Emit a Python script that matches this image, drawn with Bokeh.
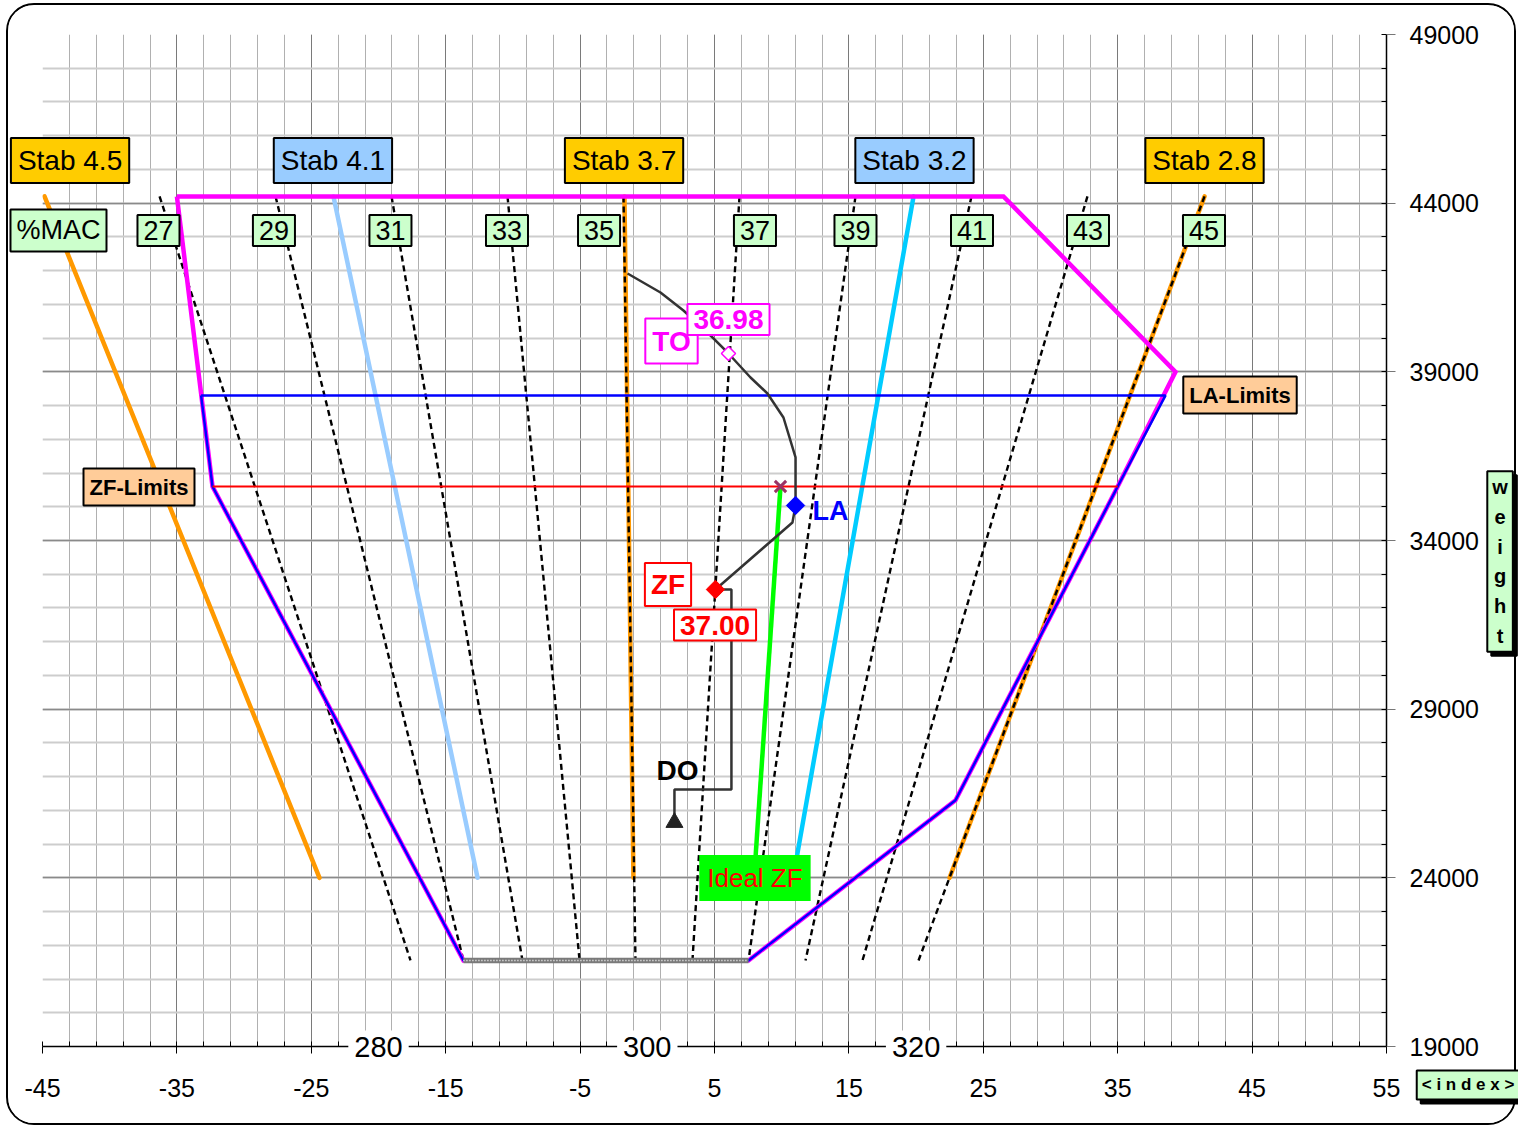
import math
from bokeh.plotting import figure
from bokeh.models import Range1d, FixedTicker, Label, CustomJSTickFormatter
from bokeh.embed import file_html
from bokeh.resources import INLINE

FONT = "Liberation Sans"

# ---------------- data ----------------
x_ticks = [-45, -35, -25, -15, -5, 5, 15, 25, 35, 45, 55]
x_minor = list(range(-45, 56, 2))
y_ticks = [19000, 24000, 29000, 34000, 39000, 44000, 49000]
y_minor = list(range(19000, 49001, 1000))
arm_positions = [-20, 0, 20]
arm_labels = ["280", "300", "320"]

mac_values = [27, 29, 31, 33, 35, 37, 39, 41, 43, 45]
mac_top_index = [-36.29, -27.66, -19.03, -10.40, -1.77, 6.86, 15.49, 24.12, 32.75, 41.46]
mac_bottom_index = [-17.62, -13.68, -9.29, -5.04, -0.88, 3.36, 7.53, 11.77, 16.01, 20.18]
mac_top_weight = 44200
mac_bottom_weight = 21550
mac_label_index = [-36.37, -27.78, -19.11, -10.44, -3.59, 8.01, 15.49, 24.16, 32.79, 41.42]

stab_labels = ["Stab 4.5", "Stab 4.1", "Stab 3.7", "Stab 3.2", "Stab 2.8"]
stab_top_index = [-44.85, -23.35, -1.70, 19.81, 41.46]
stab_bottom_index = [-24.39, -12.63, -1.03, 10.85, 22.49]
stab_top_weight = 44200
stab_bottom_weight = 24000
stab_colors = ["#FF9900", "#99CCFF", "#FF9900", "#00CCFF", "#FF9900"]
stab_box_colors = ["#FFCC00", "#99CCFF", "#FFCC00", "#99CCFF", "#FFCC00"]
stab_label_index = [-42.95, -23.39, -1.73, 19.88, 41.46]

to_env_index = [-35.0, 26.5, 39.3, 35.0, 22.93, 7.53, -13.68, -32.35, -35.0]
to_env_weight = [44200, 44200, 39000, 35600, 26300, 21550, 21550, 35600, 44200]
la_env_index = [-33.2, 38.56, 35.0, 22.93, 7.53, -13.68, -32.35, -33.2]
la_env_weight = [38300, 38300, 35600, 26300, 21550, 21550, 35600, 38300]
zf_limit_index = [-32.35, 35.0]
zf_limit_weight = [35600, 35600]
bottom_index = [-13.68, 7.53]
bottom_weight = [21550, 21550]

ideal_zf_index = [9.91, 7.95]
ideal_zf_weight = [35600, 24000]

do_path_index = [2.02, 2.02, 6.26, 6.26, 5.07]
do_path_weight = [25641, 26619, 26619, 32548, 32548]
fuel_index = [5.07, 10.80, 11.03, 11.03, 10.13, 8.94, 7.68, 6.04, 4.48, 2.69, 0.98, -1.47]
fuel_weight = [32548, 34534, 35038, 36461, 37646, 38358, 38832, 39544, 40166, 40818, 41352, 41915]

to_point = (6.04, 39544)
zf_point = (5.07, 32548)
la_point = (11.03, 35038)
ideal_point = (9.91, 35600)
do_point = (2.02, 25641)

# ---------------- layout constants ----------------
W, H = 1510, 1122
FL, FT, FW, FH = 34, 29, 1344, 1012
X0, X1, Y0, Y1 = -45, 55, 19000, 49000
XPX = FW / (X1 - X0)
YPX = FH / (Y1 - Y0)

# ---------------- main figure ----------------
p = figure(width=W, height=H, x_range=Range1d(X0, X1), y_range=Range1d(Y0, Y1),
           y_axis_location="right", x_axis_location="below",
           output_backend="svg", toolbar_location=None,
           min_border_left=FL, min_border_right=W - FL - FW,
           min_border_top=FT, min_border_bottom=H - FT - FH)
p.styles = {"position": "absolute", "left": "6px", "top": "3px",
            "border": "2px solid black", "border-radius": "28px", "overflow": "hidden"}
p.outline_line_color = None
p.background_fill_color = "white"
p.border_fill_color = "white"

p.xgrid.ticker = FixedTicker(ticks=x_ticks, minor_ticks=x_minor)
p.ygrid.ticker = FixedTicker(ticks=y_ticks, minor_ticks=y_minor)
p.xgrid.grid_line_color = "#7A7A7A"
p.xgrid.minor_grid_line_color = "#B0B0B0"
p.ygrid.grid_line_color = "#8A8A8A"
p.ygrid.grid_line_width = 1.5
p.ygrid.minor_grid_line_color = "#CDCDCD"
p.ygrid.minor_grid_line_width = 2

fmt = CustomJSTickFormatter(code="return tick.toFixed(0);")

xa = p.xaxis[0]
xa.ticker = FixedTicker(ticks=x_ticks, minor_ticks=x_minor)
xa.formatter = fmt
xa.major_tick_out = 7
xa.major_tick_in = 0
xa.minor_tick_in = 5
xa.minor_tick_out = 0
xa.axis_line_color = "black"
xa.axis_line_width = 1.5
xa.major_label_text_font = FONT
xa.major_label_text_font_size = "25px"
xa.major_label_text_color = "black"
xa.major_label_standoff = 25

ya = p.yaxis[0]
ya.ticker = FixedTicker(ticks=y_ticks, minor_ticks=y_minor)
ya.formatter = fmt
ya.major_tick_out = 9
ya.major_tick_in = 0
ya.major_tick_line_color = "#777777"
ya.minor_tick_in = 5
ya.minor_tick_out = 0
ya.axis_line_color = "black"
ya.axis_line_width = 1.5
ya.major_label_text_font = FONT
ya.major_label_text_font_size = "25px"
ya.major_label_text_color = "black"
ya.major_label_standoff = 14

# stab lines
for ti, bi, c in zip(stab_top_index, stab_bottom_index, stab_colors):
    p.line([ti, bi], [stab_top_weight, stab_bottom_weight], line_color=c, line_width=4.5, line_cap="round")

# %MAC lines
for ti, bi in zip(mac_top_index, mac_bottom_index):
    p.line([ti, bi], [mac_top_weight, mac_bottom_weight], line_color="black", line_width=2.4, line_dash="6 4")

p.line(ideal_zf_index, ideal_zf_weight, line_color="#00FF00", line_width=4.5)

# envelopes
p.line(to_env_index, to_env_weight, line_color="#FF00FF", line_width=4.5, line_join="miter")
p.line(la_env_index, la_env_weight, line_color="#0000FF", line_width=2.5)
p.line(zf_limit_index, zf_limit_weight, line_color="#FF0000", line_width=2)
p.line(bottom_index, bottom_weight, line_color="#7A7A7A", line_width=5.5)
p.line(bottom_index, bottom_weight, line_color="white", line_width=1.5, line_dash="1 2")

# load path
p.line(do_path_index, do_path_weight, line_color="#333333", line_width=2.5)
p.line(fuel_index, fuel_weight, line_color="#333333", line_width=2.5)

# markers
rot = math.pi / 4
p.scatter([do_point[0]], [do_point[1]], marker="triangle", size=17, fill_color="#222222", line_color="#222222")
p.scatter([ideal_point[0]], [ideal_point[1]], marker="x", size=16, line_color="#993366", line_width=3)
p.scatter([la_point[0]], [la_point[1]], marker="square", angle=rot, size=13, fill_color="#0000FF", line_color="#0000FF")
p.scatter([zf_point[0]], [zf_point[1]], marker="square", angle=rot, size=13, fill_color="#FF0000", line_color="#FF0000")
p.scatter([to_point[0]], [to_point[1]], marker="square", angle=rot, size=10, fill_color="white", line_color="#FF00FF", line_width=1.5)

# ---------------- overlay figure for the text boxes (frame = whole canvas) ----------------
q = figure(width=W, height=H,
           x_range=Range1d(X0 - FL / XPX, X0 + (W - FL) / XPX),
           y_range=Range1d(Y1 - (H - FT) / YPX, Y1 + FT / YPX),
           x_axis_location=None, y_axis_location=None,
           output_backend="svg", toolbar_location=None, min_border=0)
q.styles = {"position": "absolute", "left": "8px", "top": "5px"}
q.grid.visible = False
q.outline_line_color = None
q.background_fill_color = None
q.border_fill_color = None


def add_label(x, y, text, size, fill=None, border="black", color="black", bold=False,
              align="center", pad=6, bw=2, xo=0, yo=0, lh=1.2):
    lab = Label(x=x, y=y, text=text, text_font=FONT, text_font_size=f"{size}px",
                text_font_style="bold" if bold else "normal", text_color=color,
                text_align=align, text_baseline="middle", x_offset=xo, y_offset=yo,
                background_fill_color=fill, border_line_color=border,
                border_line_width=bw, padding=pad, text_line_height=lh)
    q.add_layout(lab)
    return lab


# stab labels
for lx, t, fc in zip(stab_label_index, stab_labels, stab_box_colors):
    add_label(lx, 45265, t, 28, fill=fc, pad=7)

# %MAC labels
add_label(-43.81, 43190, "%MAC", 27, fill="#CCFFCC", pad=6)
for lx, v in zip(mac_label_index, mac_values):
    add_label(lx, 43190, str(v), 27, fill="#CCFFCC", pad=6)

# point labels
add_label(1.80, 39914, "TO", 28, fill="white", border="#FF00FF", color="#FF00FF", bold=True, pad=7)
add_label(6.04, 40551, "36.98", 28, fill="white", border="#FF00FF", color="#FF00FF", bold=True, pad=6)
add_label(1.54, 32696, "ZF", 28, fill="white", border="#FF0000", color="#FF0000", bold=True, pad=6)
add_label(5.04, 31495, "37.00", 28, fill="white", border="#FF0000", color="#FF0000", bold=True, pad=6)
add_label(12.29, 34889, "LA", 27, border=None, color="#0000FF", bold=True, align="left", pad=0)
add_label(2.25, 27182, "DO", 28, border=None, color="black", bold=True, pad=0)
add_label(8.01, 23995, "Ideal ZF", 26, fill="#00FF00", border=None, color="#FF0000", pad=8)
add_label(44.10, 38313, "LA-Limits", 22, fill="#FFCC99", bold=True, pad=6)
add_label(-37.82, 35585, "ZF-Limits", 22, fill="#FFCC99", bold=True, pad=6)

# arm scale labels on the bottom line
for ax_, at in zip(arm_positions, arm_labels):
    add_label(ax_, 19000, at, 29, fill="white", border=None, pad=6)

# axis title boxes with shadow (kept inside the page)
wtxt = "w\ne\ni\ng\nh\nt"
add_label(63.45, 33378, wtxt, 20, fill="black", color="black", bold=True, pad=5, xo=4, yo=-4, lh=1.35)
add_label(63.45, 33378, wtxt, 20, fill="#CCFFCC", bold=True, pad=5, lh=1.35)
itxt = "< i n d e x >"
add_label(57.25, 17859, itxt, 17, fill="black", color="black", bold=True, align="left", pad=5, xo=4, yo=-4)
add_label(57.25, 17859, itxt, 17, fill="#CCFFCC", bold=True, align="left", pad=5)

open("out.html", "w").write(file_html([p, q], INLINE))
